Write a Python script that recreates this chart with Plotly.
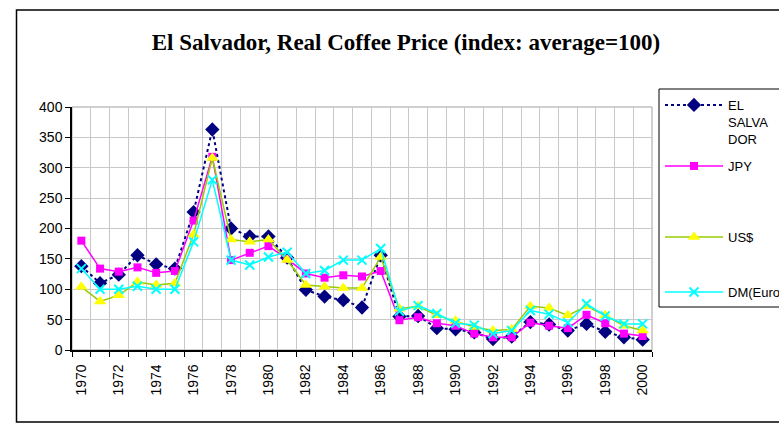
import plotly.graph_objects as go

# values (index: average = 100)
years = list(range(1970, 2001))
el_salvador = [138, 110, 124, 156, 141, 134, 227, 363, 200, 187,
               187, 152, 99, 88, 82, 70, 156, 55, 56, 36,
               34, 29, 18, 22, 46, 42, 32, 43, 30, 21, 17]
jpy = [180, 134, 129, 136, 127, 130, 213, 318, 148, 160,
       171, 150, 126, 119, 123, 121, 130, 49, 54, 44,
       40, 27, 21, 21, 45, 40, 36, 58, 44, 27, 23]
usd = [104, 80, 90, 112, 107, 110, 190, 316, 182, 178,
       182, 148, 107, 104, 102, 102, 153, 68, 72, 57,
       48, 38, 32, 34, 72, 69, 57, 72, 57, 40, 32]
dm = [134, 100, 100, 105, 100, 100, 178, 280, 148, 140,
      153, 161, 126, 131, 148, 148, 167, 64, 73, 60,
      44, 41, 27, 32, 65, 59, 45, 76, 56, 43, 43]
year_labels = [str(y) for y in range(1970, 2001, 2)]

W, H = 779, 425
# plot area in page pixels (body margin is removed by the post script below)
L, R, T, B = 72, 652, 107, 350


def px(x):
    return (x - L) / (R - L)


def py(y):
    return (B - y) / (B - T)


series = [
    ("EL<br>SALVA<br>DOR", el_salvador, dict(color="#000080", width=2, dash="3px,3px"),
     dict(symbol="diamond", size=11, color="#000080"), "legend", 90),
    ("JPY", jpy, dict(color="#FF00FF", width=1.5),
     dict(symbol="square", size=8, color="#FF00FF"), "legend2", 166),
    ("US$", usd, dict(color="#99CC00", width=1.5),
     dict(symbol="triangle-up", size=11, color="#FFFF00"), "legend3", 237),
    ("DM(Euro)", dm, dict(color="#00FFFF", width=1.5),
     dict(symbol="x-thin", size=9, color="#00FFFF", line=dict(color="#00FFFF", width=2)), "legend4", 292),
]

fig = go.Figure()
legends = {}
for name, values, line, marker, leg, ypos in series:
    fig.add_trace(go.Scatter(x=years, y=values, name=name, mode="lines+markers",
                             line=line, marker=marker, legend=leg, hoverinfo="x+y+name"))
    legends[leg] = dict(x=px(660), xanchor="left", y=py(ypos), yanchor="top" if leg == "legend" else "middle",
                        valign="top", bgcolor="rgba(0,0,0,0)", borderwidth=0, itemwidth=58,
                        font=dict(family="Liberation Sans, Arial", size=13, color="black"))

shapes = [
    # outer chart frame
    dict(type="rect", xref="paper", yref="paper", x0=px(16.5), x1=px(800), y0=py(422), y1=py(10),
         line=dict(color="black", width=1.5), layer="below"),
    # plot area border (top/right grey)
    dict(type="rect", xref="paper", yref="paper", x0=0, x1=1, y0=0, y1=1,
         line=dict(color="#a0a0a0", width=1), layer="below"),
    # legend box
    dict(type="rect", xref="paper", yref="paper", x0=px(659), x1=px(800), y0=py(307), y1=py(89),
         line=dict(color="black", width=1), layer="below"),
]

fig.update_layout(
    width=W, height=H,
    margin=dict(l=L, r=W - R, t=T, b=H - B, autoexpand=False),
    paper_bgcolor="white", plot_bgcolor="white",
    title=dict(text="<b>El Salvador, Real Coffee Price (index: average=100)</b>",
               x=406 / W, xanchor="center", y=1 - 42 / H, yanchor="middle",
               font=dict(family="Liberation Serif, Times New Roman", size=23, color="black")),
    shapes=shapes,
    showlegend=True,
    **legends,
)

fig.update_xaxes(
    range=[1969.5, 2000.5], tickvals=list(range(1970, 2001, 2)), ticktext=year_labels,
    tickangle=-90, ticks="outside", ticklen=7, tickcolor="rgba(0,0,0,0)",
    showgrid=False, zeroline=False,
    showline=True, linecolor="black", linewidth=1.5,
    tickfont=dict(family="Liberation Sans, Arial", size=14, color="black"),
    minor=dict(tick0=1969.5, dtick=1, ticks="outside", ticklen=5, tickcolor="black",
               showgrid=True, gridcolor="#c8c8c8", gridwidth=1),
)
fig.update_yaxes(
    range=[0, 400], dtick=50, ticks="outside", ticklen=5, tickcolor="black",
    showline=True, linecolor="black", linewidth=1.5, zeroline=False,
    showgrid=True, gridcolor="#c8c8c8", gridwidth=1,
    tickfont=dict(family="Liberation Sans, Arial", size=14, color="black"),
)

fig.write_html("out.html", config={"displayModeBar": False},
               post_script="document.body.style.margin='0';document.body.style.overflow='hidden';")
